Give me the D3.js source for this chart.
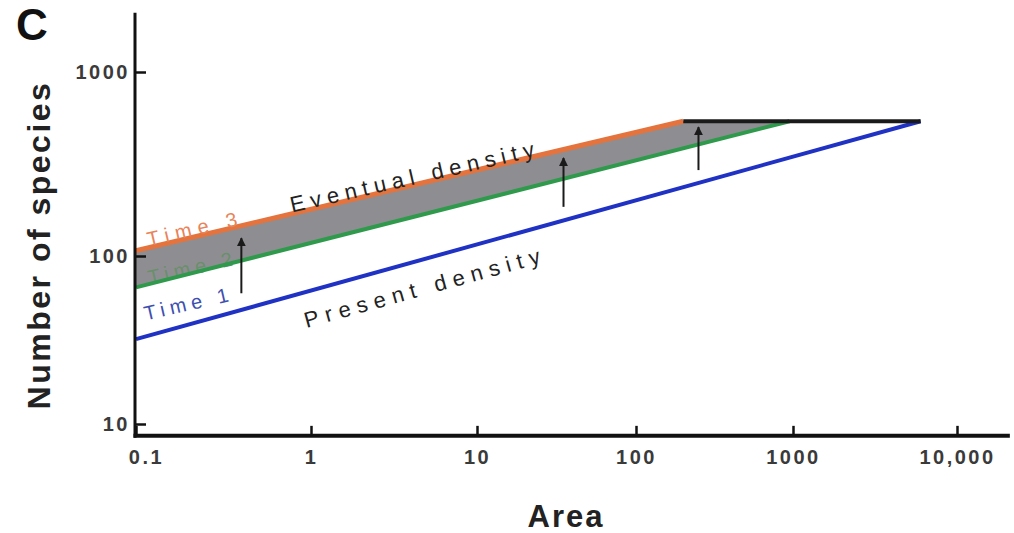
<!DOCTYPE html>
<html>

<head>
    <meta charset="UTF-8">
    <title>Species-area: present vs eventual density</title>
    <script src="https://cdn.jsdelivr.net/npm/d3@7"></script>
    <style>
        body { margin: 0; background: #fff; }
        svg text { font-family: "Liberation Sans", Arial, sans-serif; }
    </style>
</head>

<body>
    <script>
        // axis ticks
        const xTicks = [0.1, 1, 10, 100, 1000, 10000];
        const xTickLabels = ["0.1", "1", "10", "100", "1000", "10,000"];
        const yTicks = [10, 100, 1000];
        const yTickLabels = ["10", "100", "1000"];

        // lines (area, number of species)
        const time1Area = [0.1, 6000];
        const time1Species = [32, 540];
        const time2Area = [0.1, 950];
        const time2Species = [65, 540];
        const time3Area = [0.1, 200];
        const time3Species = [107, 540];
        const plateauArea = [200, 6000];
        const plateauSpecies = [540, 540];

        // arrows: from present towards eventual
        const arrowArea = [0.4, 35, 250];
        const arrowFrom = [60, 185, 293];
        const arrowTo = [125, 341, 502];

        const width = 1014;
        const height = 533;

        // the original axis is hand drawn: decades are not quite even
        const x = d3.scaleLog()
            .domain(xTicks)
            .range([136, 311, 477, 636, 793, 957]);
        const y = d3.scaleLog()
            .domain(yTicks)
            .range([424, 256, 72]);

        const xEnd = 21000, yTop = 2100, yBottom = 8.5;

        const svg = d3.select('body')
            .append('svg')
            .attr('width', width)
            .attr('height', height);

        svg.append('defs').append('marker')
            .attr('id', 'head')
            .attr('markerUnits', 'userSpaceOnUse')
            .attr('viewBox', '0 0 10 10')
            .attr('refX', 9).attr('refY', 5)
            .attr('markerWidth', 9).attr('markerHeight', 11)
            .attr('orient', 'auto')
            .append('path')
            .attr('d', 'M0,0 L10,5 L0,10 z')
            .attr('fill', '#1a1a1a');

        const pts = (xs, ys) => xs.map((d, i) => [x(d), y(ys[i])]);
        const line = d3.line();

        // grey band between time 3 (incl. plateau) and time 2
        const band = pts(time3Area, time3Species)
            .concat([[x(time2Area[1]), y(plateauSpecies[0])]])
            .concat(pts(time2Area, time2Species).reverse());
        svg.append('path')
            .attr('d', line(band) + 'Z')
            .attr('fill', '#8e8e92');

        const lbl = (txt, cx, cy, rot, len, size, fill) =>
            svg.append('text')
                .attr('transform', `translate(${cx},${cy}) rotate(${rot})`)
                .attr('text-anchor', 'middle')
                .attr('dy', '0.35em')
                .attr('textLength', len)
                .attr('font-size', size)
                .attr('fill', fill)
                .text(txt);

        lbl('Time 2', 190, 268, -13, 86, 20, '#6a8f6c');

        const series = [
            [time1Area, time1Species, '#1f32c4', 4],
            [time2Area, time2Species, '#2f9a4c', 4],
            [time3Area, time3Species, '#e4733d', 5],
            [plateauArea, plateauSpecies, '#1a1a1a', 4]
        ];
        series.forEach(([xs, ys, c, w]) => {
            svg.append('path')
                .attr('d', line(pts(xs, ys)))
                .attr('fill', 'none')
                .attr('stroke', c)
                .attr('stroke-width', w);
        });

        arrowArea.forEach((a, i) => {
            svg.append('line')
                .attr('x1', x(a)).attr('x2', x(a))
                .attr('y1', y(arrowFrom[i])).attr('y2', y(arrowTo[i]))
                .attr('stroke', '#1a1a1a')
                .attr('stroke-width', 2)
                .attr('marker-end', 'url(#head)');
        });

        lbl('Time 3', 192, 229, -13, 92, 20, '#e8835a');
        lbl('Time 1', 186, 304, -13, 86, 20, '#3d4fb0');
        lbl('Eventual density', 412, 177, -13, 250, 22, '#222');
        lbl('Present density', 422, 288, -15.5, 244, 22, '#222');

        // axes
        const yAxis = svg.append('g')
            .attr('transform', `translate(${x(0.1) - 1},0)`)
            .call(d3.axisLeft(y).tickValues(yTicks).tickSize(-11).tickPadding(5)
                .tickFormat((d, i) => yTickLabels[i]));
        const xAxis = svg.append('g')
            .attr('transform', `translate(0,${y(yBottom)})`)
            .call(d3.axisBottom(x).tickValues(xTicks).tickSize(-10).tickPadding(14)
                .tickFormat((d, i) => xTickLabels[i]));

        [yAxis, xAxis].forEach(g => {
            g.select('.domain').remove();
            g.selectAll('.tick line').attr('stroke', '#111').attr('stroke-width', 2.5);
            g.selectAll('.tick text')
                .attr('font-size', 20)
                .attr('font-weight', 'bold')
                .attr('fill', '#3a3a3a')
                .attr('letter-spacing', 2.5);
        });
        xAxis.selectAll('.tick text').filter((d, i) => i === 0).attr('dx', 10);

        svg.append('line')
            .attr('x1', x(0.1) - 1).attr('x2', x(0.1) - 1)
            .attr('y1', y(yTop)).attr('y2', y(yBottom) + 2)
            .attr('stroke', '#111').attr('stroke-width', 3);
        svg.append('line')
            .attr('x1', x(0.1) - 2.5).attr('x2', x(xEnd))
            .attr('y1', y(yBottom)).attr('y2', y(yBottom))
            .attr('stroke', '#111').attr('stroke-width', 4);

        svg.append('text')
            .attr('x', 566).attr('y', 527)
            .attr('text-anchor', 'middle')
            .attr('font-size', 31).attr('font-weight', 'bold')
            .attr('letter-spacing', 2)
            .attr('fill', '#222')
            .text('Area');

        svg.append('text')
            .attr('transform', 'translate(50,245) rotate(-90)')
            .attr('text-anchor', 'middle')
            .attr('font-size', 32).attr('font-weight', 'bold')
            .attr('letter-spacing', 2.5)
            .attr('fill', '#222')
            .text('Number of species');

        svg.append('text')
            .attr('x', 16).attr('y', 40)
            .attr('font-size', 44).attr('font-weight', 'bold')
            .attr('fill', '#111')
            .text('C');
    </script>
</body>

</html>
